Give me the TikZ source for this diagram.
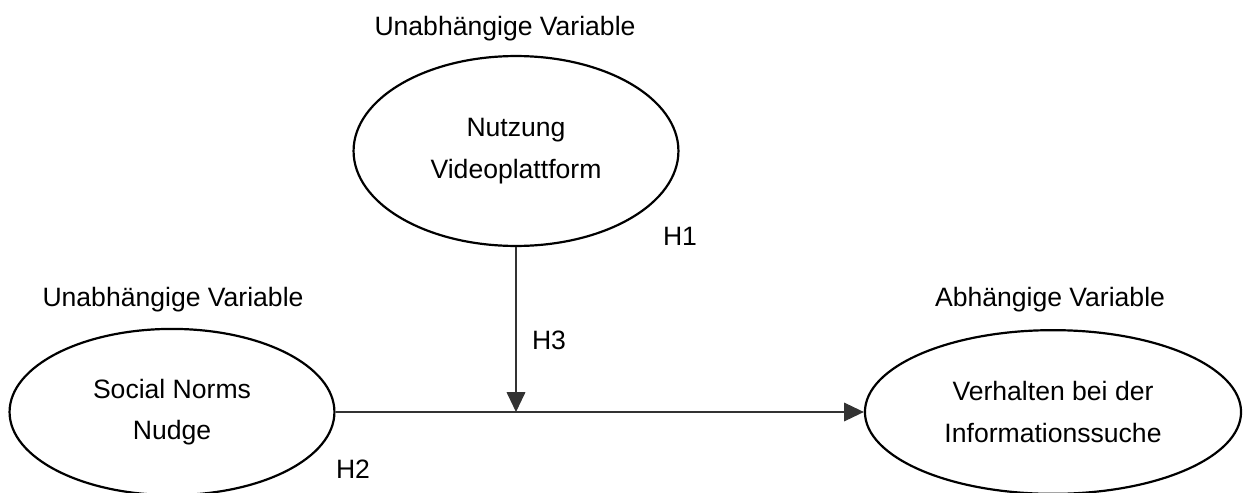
\documentclass[tikz,border=0pt]{standalone}
\usepackage{fontspec}
\setmainfont{Liberation Sans}
\usetikzlibrary{shapes.geometric,arrows.meta}

\begin{document}
\begin{tikzpicture}[%
x=0.016cm, y=-0.016cm,
every node/.style = {font=\fontsize{12.1}{19}\selectfont, inner sep=0pt},
var/.style = {draw, ellipse, line width=1pt, align=center},
link/.style = {draw=black!80, line width=0.5pt},
tip/.style = {-{Triangle[length=9pt, width=8.5pt]}}
]
\useasboundingbox (0,0) rectangle (1244,493);
% variables
\node[var, minimum width=5.2cm, minimum height=3.04cm] (video) at (516,151) {Nutzung\\Videoplattform};
\node[var, minimum width=5.2cm, minimum height=2.66cm] (nudge) at (172,412) {Social Norms\\Nudge};
\node[var, minimum width=6.02cm, minimum height=2.62cm] (search) at (1053,412) {Verhalten bei der\\Informationssuche};
% labels
\node (lvideo) at (505,29) {Unabhängige Variable};
\node (lnudge) at (173,300) {Unabhängige Variable};
\node (lsearch) at (1050,300) {Abhängige Variable};
\node (h1) at (680,236) {H1};
\node (h2) at (353,469) {H2};
\node (h3) at (549,340) {H3};
% connectors
\coordinate (meet) at (516,412);
\draw[link, tip] (nudge.east) -- (search.west);
\draw[link, tip] (video.south) -- (meet);
\end{tikzpicture}
\end{document}
